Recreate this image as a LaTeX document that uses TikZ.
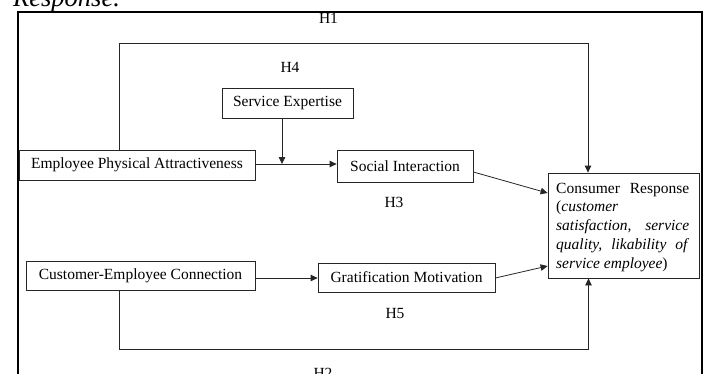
\documentclass[tikz,border=0pt]{standalone}
\usepackage{fontspec}
\setmainfont{Liberation Serif}
\usetikzlibrary{arrows.meta}
\begin{document}
\begin{tikzpicture}[x=1pt,y=-1pt,
  box/.style={draw=black!85,line width=0.8pt,inner sep=0pt,font=\fontsize{15.5}{18.8}\selectfont},
  lbl/.style={inner sep=0pt,anchor=base,font=\fontsize{15.5}{18.8}\selectfont},
  conn/.style={draw=black!85,line width=0.8pt},
  arr/.style={conn,-{Triangle[length=7pt,width=6.5pt]}}]
\useasboundingbox (0,0) rectangle (708,373);
\clip (0,0) rectangle (708,373);
% page text above the frame
\node[inner sep=0pt,anchor=base west,font=\fontsize{26.5}{30}\selectfont\itshape] (resp) at (13,6) {Response.};
% outer frame
\draw[line width=2pt] (17.5,400) -- (17.5,12) -- (701.5,12) -- (701.5,400);
% boxes
\node[box,minimum width=131pt,minimum height=30pt] (se) at (287.5,103) {Service Expertise};
\node[box,minimum width=236pt,minimum height=30pt] (epa) at (137,165) {Employee Physical Attractiveness};
\node[box,minimum width=136pt,minimum height=32pt] (si) at (405,166) {Social Interaction};
\node[box,minimum width=229pt,minimum height=29pt] (cec) at (140.5,275.5) {Customer-Employee Connection};
\node[box,minimum width=177pt,minimum height=29pt] (gm) at (406.5,277.5) {Gratification Motivation};
\node[box,minimum width=151pt,minimum height=105pt] (cr) at (623.5,225.5) {};
\node[inner sep=0pt,anchor=base west,font=\fontsize{15.5}{18.8}\selectfont] (crt) at (556,193)
 {\vtop{\hsize=133pt\parindent=0pt\baselineskip=18.8pt
  \hbox to 133pt{Consumer\hfill Response}
  \hbox{(\textit{customer}}
  \hbox to 133pt{\textit{satisfaction,}\hfill\textit{service}}
  \hbox to 133pt{\textit{quality,}\hfill\textit{likability}\hfill\textit{of}}
  \hbox{\textit{service employee})}}};
% labels
\node[lbl] (h1) at (328.5,23) {H1};
\node[lbl] (h4) at (290,72) {H4};
\node[lbl] (h3) at (394,207) {H3};
\node[lbl] (h5) at (395,318) {H5};
\node[lbl] (h2) at (323,378) {H2};
% helper coordinates
\coordinate (h1a) at (119,43);
\coordinate (h1b) at (588,43);
\coordinate (h2a) at (119,349);
\coordinate (h2b) at (588.5,349);
\coordinate (m) at (282,164);
\coordinate (s1) at (473,172);
\coordinate (c1) at (548,193);
\coordinate (g1) at (495,278);
\coordinate (c2) at (548,266);
% connectors
\draw[arr] (epa.north -| h1a) -- (h1a) -- (h1b) -- (h1b |- cr.north);
\draw[arr] (cec.south -| h2a) -- (h2a) -- (h2b) -- (h2b |- cr.south);
\draw[arr] (se.south -| m) -- (m);
\draw[arr] (epa.east |- m) -- (si.west |- m);
\draw[arr] (si.east |- s1) -- (cr.west |- c1);
\draw[arr] (cec.east |- g1) -- (gm.west |- g1);
\draw[arr] (gm.east |- g1) -- (cr.west |- c2);
\end{tikzpicture}
\end{document}
